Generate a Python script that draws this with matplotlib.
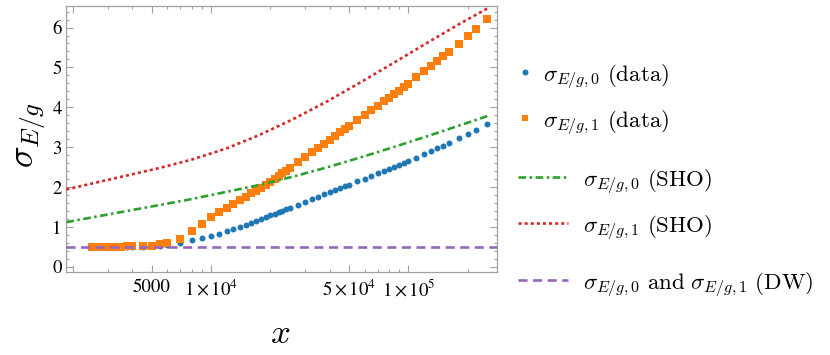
import matplotlib
matplotlib.use("Agg")
import matplotlib.pyplot as plt
from matplotlib.lines import Line2D
from matplotlib.ticker import FixedLocator, FixedFormatter, NullFormatter, MultipleLocator

# sample sizes shared by both data series
x_data = [2500, 2750, 3000, 3250, 3500, 3750, 4000, 4500, 5000, 5500, 6000,
          7000, 8000, 9000, 10000, 11000, 12000, 13000, 14000, 15000, 16000,
          17000, 18000, 19000, 20000, 21000, 22000, 23000, 24000, 25000,
          27500, 30000, 32500, 35000, 37500, 40000, 42500, 45000, 47500,
          50000, 55000, 60000, 65000, 70000, 75000, 80000, 85000, 90000, 95000,
          100000, 110000, 120000, 130000, 140000, 150000, 160000,
          180000, 200000, 220000, 250000]

sigma0_data = [0.49, 0.49, 0.49, 0.49, 0.49, 0.50, 0.50, 0.50, 0.51, 0.52, 0.54,
               0.59, 0.66, 0.72, 0.78, 0.83, 0.89, 0.94, 0.99, 1.05, 1.10,
               1.15, 1.20, 1.24, 1.29, 1.33, 1.37, 1.41, 1.44, 1.48,
               1.55, 1.63, 1.70, 1.76, 1.82, 1.87, 1.92, 1.97, 2.02,
               2.06, 2.14, 2.21, 2.28, 2.35, 2.40, 2.46, 2.51, 2.56, 2.60,
               2.65, 2.74, 2.82, 2.90, 2.97, 3.04, 3.10,
               3.22, 3.33, 3.44, 3.57]

sigma1_data = [0.49, 0.49, 0.49, 0.49, 0.50, 0.51, 0.51, 0.52, 0.53, 0.56, 0.59,
               0.71, 0.89, 1.08, 1.24, 1.37, 1.48, 1.58, 1.67, 1.76, 1.84,
               1.91, 1.98, 2.05, 2.12, 2.19, 2.27, 2.34, 2.41, 2.48,
               2.62, 2.75, 2.88, 2.99, 3.09, 3.19, 3.28, 3.37, 3.45,
               3.53, 3.67, 3.81, 3.93, 4.04, 4.15, 4.24, 4.34, 4.42, 4.51,
               4.59, 4.76, 4.90, 5.03, 5.16, 5.28, 5.38,
               5.59, 5.80, 5.97, 6.21]

# model curves
x_model = [1850, 2500, 3750, 5500, 8000, 12000, 17500, 26000, 38500,
           57000, 84000, 124000, 183000, 252000]
sho0 = [1.12, 1.24, 1.40, 1.55, 1.70, 1.88, 2.05, 2.26, 2.49,
        2.74, 3.00, 3.27, 3.55, 3.78]
sho1 = [1.94, 2.09, 2.29, 2.48, 2.69, 2.97, 3.30, 3.70, 4.14,
        4.62, 5.11, 5.61, 6.10, 6.48]
dw_level = 0.5

x_major = [2000, 5000, 10000, 50000, 100000]
x_major_labels = ["", "5000", r"$1\times10^{4}$", r"$5\times10^{4}$", r"$1\times10^{5}$"]
x_minor = [3000, 4000, 6000, 7000, 8000, 9000, 20000, 30000, 40000,
           60000, 70000, 80000, 90000, 200000]

BLUE, ORANGE, GREEN, RED, PURPLE = "#1f77b4", "#ff7f0e", "#2ca02c", "#d62728", "#9467bd"
FRAME = "#a0a0a0"

plt.rcParams["lines.scale_dashes"] = False

W, H = 830, 355
fig = plt.figure(figsize=(W / 100, H / 100), dpi=100)
ax = fig.add_axes([66 / W, 1 - 272 / H, (497 - 66) / W, (272 - 6) / H])

ms_dot, ms_sq = 4.3, 5.6
ax.plot(x_data, sigma0_data, "o", color=BLUE, ms=ms_dot, mew=0, zorder=3)
ax.plot(x_data, sigma1_data, "s", color=ORANGE, ms=ms_sq, mew=0, zorder=4)

lw = 1.9
green_dash = (0, (5.5, 2.5, 1.8, 2.5))
red_dot = (0, (2.2, 2.2))
purple_dash = (0, (6.5, 4.0))
ax.plot(x_model, sho0, color=GREEN, lw=lw, ls=green_dash, zorder=5)
ax.plot(x_model, sho1, color=RED, lw=lw, ls=red_dot, zorder=5)
ax.axhline(dw_level, color=PURPLE, lw=lw, ls=purple_dash, zorder=5)

ax.set_xscale("log")
ax.set_xlim(1841, 281500)
ax.set_ylim(-0.13, 6.54)

ax.xaxis.set_major_locator(FixedLocator(x_major))
ax.xaxis.set_major_formatter(FixedFormatter(x_major_labels))
ax.xaxis.set_minor_locator(FixedLocator(x_minor))
ax.xaxis.set_minor_formatter(NullFormatter())
ax.yaxis.set_major_locator(MultipleLocator(1))
ax.yaxis.set_minor_locator(MultipleLocator(0.2))

for s in ax.spines.values():
    s.set_color(FRAME)
    s.set_linewidth(0.9)
ax.tick_params(which="both", direction="in", top=True, right=True, color=FRAME, width=0.8)
ax.tick_params(which="major", length=4.8)
ax.tick_params(which="minor", length=2.4)
ax.tick_params(axis="y", pad=3)
ax.tick_params(axis="x", pad=5)
for lab in ax.get_xticklabels() + ax.get_yticklabels():
    lab.set_fontfamily("STIXGeneral")
    lab.set_math_fontfamily("stix")
    lab.set_fontsize(13.5)

fig.text(280 / W, 1 - 333 / H, r"$x$", fontsize=25, ha="center", va="center",
         math_fontfamily="cm")
fig.text(30 / W, 1 - 135 / H, r"$\sigma_{E/g}$", fontsize=26, ha="center", va="center",
         rotation=90, math_fontfamily="cm")


# legend drawn by hand to keep the grouped spacing
def fx(px):
    return px / W


def fy(py):
    return 1 - py / H


legend_fs = 16.5
fig.add_artist(Line2D([fx(525)], [fy(72)], marker="o", color=BLUE, ms=ms_dot, mew=0,
                      transform=fig.transFigure))
fig.text(fx(543), fy(72), r"$\sigma_{E/g,0}\ \mathrm{(data)}$", fontsize=legend_fs,
         va="center_baseline", math_fontfamily="cm")
fig.add_artist(Line2D([fx(525)], [fy(118)], marker="s", color=ORANGE, ms=ms_sq - 0.8, mew=0,
                      transform=fig.transFigure))
fig.text(fx(543), fy(118), r"$\sigma_{E/g,1}\ \mathrm{(data)}$", fontsize=legend_fs,
         va="center_baseline", math_fontfamily="cm")
fig.add_artist(Line2D([fx(518), fx(568)], [fy(177), fy(177)], color=GREEN, lw=lw,
                      ls=green_dash, transform=fig.transFigure))
fig.text(fx(583), fy(177), r"$\sigma_{E/g,0}\ \mathrm{(SHO)}$", fontsize=legend_fs,
         va="center_baseline", math_fontfamily="cm")
fig.add_artist(Line2D([fx(518), fx(568)], [fy(223), fy(223)], color=RED, lw=lw,
                      ls=red_dot, transform=fig.transFigure))
fig.text(fx(583), fy(223), r"$\sigma_{E/g,1}\ \mathrm{(SHO)}$", fontsize=legend_fs,
         va="center_baseline", math_fontfamily="cm")
fig.add_artist(Line2D([fx(518), fx(568)], [fy(280), fy(280)], color=PURPLE, lw=lw,
                      ls=purple_dash, transform=fig.transFigure))
fig.text(fx(583), fy(280), r"$\sigma_{E/g,0}\ \mathrm{and}\ \sigma_{E/g,1}\ \mathrm{(DW)}$",
         fontsize=legend_fs, va="center_baseline", math_fontfamily="cm")

fig.savefig("out.png", dpi=100)
